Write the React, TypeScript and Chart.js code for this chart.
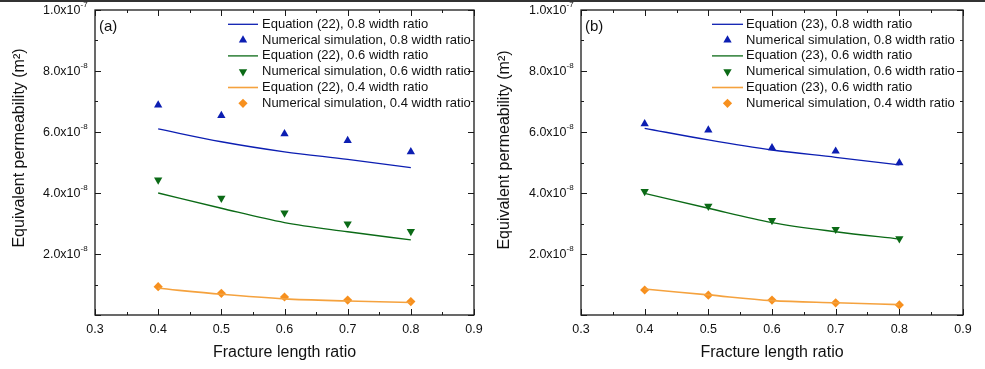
import React, { useEffect, useRef } from 'react';
import { Chart, registerables } from 'chart.js';

Chart.register(...registerables);

const FONT = '"Liberation Sans", Arial, sans-serif';

// Fracture length ratios
const xRatios = [0.4, 0.5, 0.6, 0.7, 0.8];
const xTickValues = [0.3, 0.4, 0.5, 0.6, 0.7, 0.8, 0.9];
const yTickValues = [2e-8, 4e-8, 6e-8, 8e-8, 1e-7];
const yTickMantissa = ['2.0', '4.0', '6.0', '8.0', '1.0'];
const yTickExponent = ['-8', '-8', '-8', '-8', '-7'];

// Panel (a)
const eqA08 = [6.1e-8, 5.68e-8, 5.35e-8, 5.1e-8, 4.83e-8];
const simA08 = [6.88e-8, 6.54e-8, 5.94e-8, 5.72e-8, 5.35e-8];
const eqA06 = [4.0e-8, 3.5e-8, 3.03e-8, 2.73e-8, 2.46e-8];
const simA06 = [4.43e-8, 3.83e-8, 3.35e-8, 2.99e-8, 2.74e-8];
const eqA04 = [0.875e-8, 0.68e-8, 0.53e-8, 0.46e-8, 0.41e-8];
const simA04 = [0.93e-8, 0.71e-8, 0.59e-8, 0.49e-8, 0.44e-8];

// Panel (b)
const eqB08 = [6.12e-8, 5.74e-8, 5.41e-8, 5.17e-8, 4.92e-8];
const simB08 = [6.27e-8, 6.06e-8, 5.48e-8, 5.37e-8, 4.99e-8];
const eqB06 = [3.99e-8, 3.5e-8, 3.03e-8, 2.73e-8, 2.49e-8];
const simB06 = [4.05e-8, 3.57e-8, 3.1e-8, 2.81e-8, 2.5e-8];
const eqB04 = [0.85e-8, 0.66e-8, 0.47e-8, 0.4e-8, 0.34e-8];
const simB04 = [0.82e-8, 0.65e-8, 0.49e-8, 0.4e-8, 0.33e-8];

const labelsA = [
  'Equation (22), 0.8 width ratio',
  'Numerical simulation, 0.8 width ratio',
  'Equation (22), 0.6 width ratio',
  'Numerical simulation, 0.6 width ratio',
  'Equation (22), 0.4 width ratio',
  'Numerical simulation, 0.4 width ratio',
];
const labelsB = [
  'Equation (23), 0.8 width ratio',
  'Numerical simulation, 0.8 width ratio',
  'Equation (23), 0.6 width ratio',
  'Numerical simulation, 0.6 width ratio',
  'Equation (23), 0.6 width ratio',
  'Numerical simulation, 0.4 width ratio',
];

const BLUE = '#0c1eb2';
const GREEN = '#0b6a16';
const ORANGE = '#f7901e';
const ORANGE_LINE = '#f5a23e';

function pts(vals: number[]) {
  return vals.map((v, i) => ({ x: xRatios[i], y: v }));
}

function lineDs(label: string, vals: number[], color: string, width: number) {
  return {
    label,
    data: pts(vals),
    borderColor: color,
    backgroundColor: color,
    borderWidth: width,
    pointRadius: 0,
    cubicInterpolationMode: 'monotone',
    showLine: true,
    fill: false,
  };
}

function markDs(label: string, vals: number[], color: string, style: string, rotation: number, radius: number) {
  return {
    label,
    data: pts(vals),
    borderColor: color,
    backgroundColor: color,
    borderWidth: 0,
    pointRadius: radius,
    pointStyle: style,
    rotation,
    showLine: false,
    fill: false,
  };
}

function drawMarker(ctx: CanvasRenderingContext2D, style: string, rotation: number, r: number, x: number, y: number, color: string) {
  ctx.save();
  ctx.fillStyle = color;
  ctx.beginPath();
  if (style === 'triangle') {
    let rad = (rotation * Math.PI) / 180;
    for (let k = 0; k < 3; k++) {
      const px = x + Math.sin(rad) * r;
      const py = y - Math.cos(rad) * r;
      if (k === 0) ctx.moveTo(px, py);
      else ctx.lineTo(px, py);
      rad += (2 * Math.PI) / 3;
    }
  } else {
    ctx.moveTo(x, y - r);
    ctx.lineTo(x + r, y);
    ctx.lineTo(x, y + r);
    ctx.lineTo(x - r, y);
  }
  ctx.closePath();
  ctx.fill();
  ctx.restore();
}

const decorPlugin = {
  id: 'decor',
  afterDraw(chart: any) {
    const o = chart.options.plugins.decor;
    const { ctx, chartArea: ca, scales } = chart;
    const xs = scales.x;
    const ys = scales.y;
    ctx.save();
    // frame
    ctx.strokeStyle = '#1a1a1a';
    ctx.lineWidth = 1.3;
    ctx.strokeRect(ca.left, ca.top, ca.right - ca.left, ca.bottom - ca.top);
    // x ticks (major every 0.1, minor every 0.05), inward on bottom and top
    ctx.lineWidth = 1;
    for (let k = 0; k <= 12; k++) {
      const v = 0.3 + k * 0.05;
      const px = Math.round(xs.getPixelForValue(v)) + 0.5;
      const len = k % 2 === 0 ? 6 : 3;
      ctx.beginPath();
      ctx.moveTo(px, ca.bottom);
      ctx.lineTo(px, ca.bottom - len);
      ctx.moveTo(px, ca.top);
      ctx.lineTo(px, ca.top + len);
      ctx.stroke();
    }
    // y ticks every 1e-8, inward on left and right
    for (let k = 0; k <= 10; k++) {
      const v = k * 1e-8;
      const py = Math.round(ys.getPixelForValue(v)) + 0.5;
      const len = k % 2 === 0 ? 6 : 3;
      ctx.beginPath();
      ctx.moveTo(ca.left, py);
      ctx.lineTo(ca.left + len, py);
      ctx.moveTo(ca.right, py);
      ctx.lineTo(ca.right - len, py);
      ctx.stroke();
    }
    // y tick labels
    ctx.fillStyle = '#111';
    yTickValues.forEach((v, i) => {
      const py = ys.getPixelForValue(v);
      const xr = ca.left - 14.5;
      ctx.font = `12.5px ${FONT}`;
      ctx.textAlign = 'right';
      ctx.textBaseline = 'middle';
      ctx.fillText(yTickMantissa[i] + 'x10', xr, py + 1);
      ctx.font = `8px ${FONT}`;
      ctx.textAlign = 'left';
      ctx.fillText(yTickExponent[i], xr, py - 5);
    });
    // y axis title
    ctx.save();
    ctx.translate(o.yTitleX, o.yTitleY);
    ctx.rotate(-Math.PI / 2);
    ctx.font = `16px ${FONT}`;
    ctx.textAlign = 'center';
    ctx.textBaseline = 'middle';
    ctx.fillText('Equivalent permeability (m\u00b2)', 0, 0);
    ctx.restore();
    // panel label
    ctx.font = `15px ${FONT}`;
    ctx.textAlign = 'left';
    ctx.textBaseline = 'middle';
    ctx.fillText(o.panel, ca.left + 4, ca.top + 17);
    // legend
    chart.data.datasets.forEach((ds: any, i: number) => {
      const y = o.legendY + i * 15.8;
      if (ds.showLine) {
        ctx.strokeStyle = ds.borderColor;
        ctx.lineWidth = ds.borderWidth;
        ctx.beginPath();
        ctx.moveTo(o.legendX0, y);
        ctx.lineTo(o.legendX1, y);
        ctx.stroke();
      } else {
        drawMarker(ctx, ds.pointStyle, ds.rotation, ds.pointRadius, (o.legendX0 + o.legendX1) / 2, y, ds.backgroundColor);
      }
      ctx.fillStyle = '#111';
      ctx.font = `13px ${FONT}`;
      ctx.textAlign = 'left';
      ctx.textBaseline = 'middle';
      ctx.fillText(ds.label, o.legendText, y);
    });
    ctx.restore();
  },
};

function makeConfig(datasets: any[], cfg: any) {
  return {
    type: 'line',
    data: { datasets },
    plugins: [decorPlugin],
    options: {
      responsive: false,
      animation: false,
      events: [],
      layout: { padding: { top: 10, right: cfg.padRight, left: 0, bottom: 0 } },
      plugins: {
        legend: { display: false },
        tooltip: { enabled: false },
        decor: cfg.decor,
      },
      scales: {
        x: {
          type: 'linear',
          min: 0.3,
          max: 0.9,
          grid: { display: false, drawTicks: false },
          border: { display: false },
          afterBuildTicks: (s: any) => {
            s.ticks = xTickValues.map((v) => ({ value: v }));
          },
          ticks: {
            font: { size: 12.5, family: FONT },
            color: '#111',
            padding: 7,
            maxRotation: 0,
            autoSkip: false,
            callback: (v: any) => Number(v).toFixed(1),
          },
          title: {
            display: true,
            text: 'Fracture length ratio',
            font: { size: 16, family: FONT },
            color: '#111',
            padding: { top: 4, bottom: 7 },
          },
          afterFit: (s: any) => {
            s.height = 54;
          },
        },
        y: {
          type: 'linear',
          min: 0,
          max: 1e-7,
          grid: { display: false, drawTicks: false },
          border: { display: false },
          ticks: { display: false },
          afterFit: (s: any) => {
            s.width = cfg.yWidth;
          },
        },
      },
    },
  };
}

function Panel({ left, width, datasets, cfg }: any) {
  const ref = useRef<HTMLCanvasElement>(null);
  useEffect(() => {
    if (!ref.current) return;
    const chart = new Chart(ref.current, makeConfig(datasets, cfg) as any);
    return () => chart.destroy();
  }, []);
  return (
    <canvas
      ref={ref}
      width={width}
      height={369}
      style={{ position: 'absolute', left, top: 0, width, height: 369 }}
    />
  );
}

export default function App() {
  const dsA = [
    lineDs(labelsA[0], eqA08, BLUE, 1.3),
    markDs(labelsA[1], simA08, BLUE, 'triangle', 0, 4.8),
    lineDs(labelsA[2], eqA06, GREEN, 1.3),
    markDs(labelsA[3], simA06, GREEN, 'triangle', 180, 4.8),
    lineDs(labelsA[4], eqA04, ORANGE_LINE, 1.6),
    markDs(labelsA[5], simA04, ORANGE, 'rectRot', 0, 4.6),
  ];
  const dsB = [
    lineDs(labelsB[0], eqB08, BLUE, 1.3),
    markDs(labelsB[1], simB08, BLUE, 'triangle', 0, 4.8),
    lineDs(labelsB[2], eqB06, GREEN, 1.3),
    markDs(labelsB[3], simB06, GREEN, 'triangle', 180, 4.8),
    lineDs(labelsB[4], eqB04, ORANGE_LINE, 1.6),
    markDs(labelsB[5], simB04, ORANGE, 'rectRot', 0, 4.6),
  ];
  return (
    <div style={{ position: 'absolute', left: 0, top: 0, width: 985, height: 369, background: '#fff', overflow: 'hidden' }}>
      <div style={{ position: 'absolute', left: 0, top: 0, width: 985, height: 2, background: '#333' }} />
      <Panel
        left={0}
        width={490}
        datasets={dsA}
        cfg={{
          padRight: 16,
          yWidth: 95,
          decor: { panel: '(a)', yTitleX: 20, yTitleY: 148, legendX0: 228, legendX1: 258, legendText: 262, legendY: 24.3 },
        }}
      />
      <Panel
        left={490}
        width={495}
        datasets={dsB}
        cfg={{
          padRight: 22,
          yWidth: 91,
          decor: { panel: '(b)', yTitleX: 15, yTitleY: 150, legendX0: 222, legendX1: 253, legendText: 256, legendY: 24.3 },
        }}
      />
    </div>
  );
}
